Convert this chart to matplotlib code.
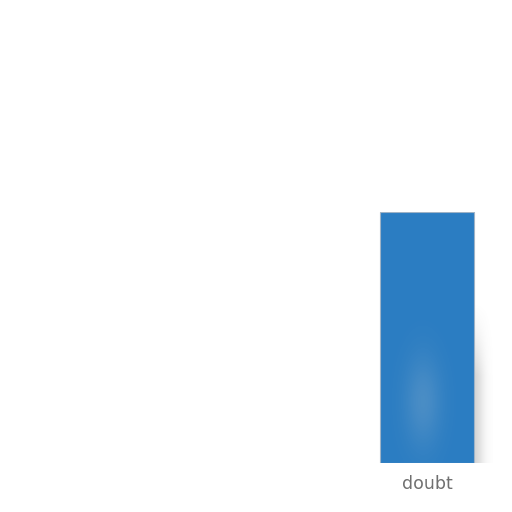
import matplotlib
matplotlib.use('Agg')
import matplotlib.pyplot as plt
import numpy as np

categories = ['doubt']
values = [1.0]

bar_color = '#2b7dc2'

fig = plt.figure(figsize=(5.12, 5.12), dpi=100)
# axes: bottom of bars at y=463px, value 1.0 at y=212px
ax = fig.add_axes([0.0, (512 - 463) / 512, 1.0, (463 - 212) / 512])
ax.set_ylim(0, 1)
ax.set_xlim(-4.537, 0.903)
ax.axis('off')

x = np.arange(len(categories))
width = 94 / 512 * 5.44

# soft shadow to the right, fading upwards
yy, xx = np.mgrid[0:100, 0:60]
sh_alpha = np.exp(-((xx - 8) / 26.0) ** 2) * np.clip((yy - 2) / 45.0, 0, 1) ** 1.5 * 0.32
sh = np.zeros((100, 60, 4))
sh[..., :3] = 0.5
sh[..., 3] = sh_alpha
for b in ax.bar(x, values, width=width, color='none', linewidth=0):
    x1 = b.get_x() + b.get_width()
    ax.imshow(sh, extent=[x1 - 0.03, x1 + 0.2, 0.0, 0.66], aspect='auto',
              zorder=1, origin='upper', interpolation='bilinear')

bars = ax.bar(x, values, width=width, color=bar_color, edgecolor='#9fb3c6',
              linewidth=0.8, zorder=3)

# faint blurred highlight near the bottom of the bar
gy, gx = np.mgrid[0:100, 0:60]
hl_alpha = np.exp(-((gx - 27) / 12.0) ** 2 - ((gy - 62) / 28.0) ** 2) * 0.18
hl = np.zeros((100, 60, 4))
hl[..., :3] = 0.85
hl[..., 3] = hl_alpha
for b in bars:
    x0, w = b.get_x(), b.get_width()
    ax.imshow(hl, extent=[x0, x0 + w, 0.0, 0.65], aspect='auto',
              zorder=4, origin='upper', interpolation='bilinear')
    ax.text(x0 + w / 2, -0.048, categories[0], ha='center', va='top',
            fontsize=12.5, color='#707070', family='DejaVu Sans')

ax.set_xlim(-4.537, 0.903)
ax.set_ylim(0, 1)
fig.savefig('out.png', dpi=100)
